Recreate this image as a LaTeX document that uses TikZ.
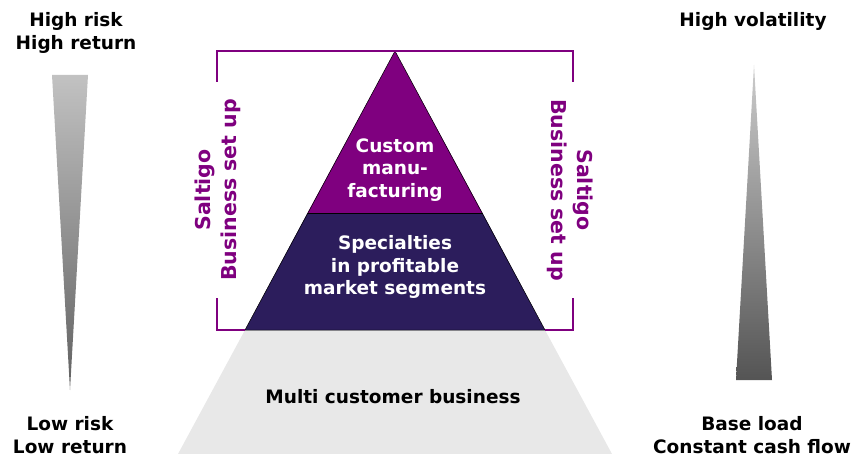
\documentclass[tikz,border=0pt]{standalone}
\usepackage{fontspec}
\setmainfont{DejaVu Sans}
\begin{document}
\begin{tikzpicture}[x=1pt,y=-1pt,
  lbl/.style={font=\bfseries\fontsize{18.5}{22.5}\selectfont, align=center, inner sep=0pt},
  wlbl/.style={lbl, text=white},
  plbl/.style={lbl, font=\bfseries\fontsize{20.5}{26.5}\selectfont, text=saltpurple},
  bracket/.style={draw=saltpurple, line width=1.3pt}]
\definecolor{saltpurple}{HTML}{7F007F}
\definecolor{deepblue}{HTML}{2C1D5C}
\definecolor{lightgr}{HTML}{E8E8E8}
\useasboundingbox (0,0) rectangle (853,454);
% gray base trapezoid
\fill[lightgr] (245,330) -- (545,330) -- (612,454) -- (178,454) -- cycle;
% pyramid
\fill[deepblue] (307.5,213) -- (482.5,213) -- (545,330) -- (245,330) -- cycle;
\fill[saltpurple] (395,51) -- (482.5,213) -- (307.5,213) -- cycle;
\draw[black, line width=0.5pt] (395,51) -- (545,330) -- (245,330) -- cycle;
\draw[black, line width=0.5pt] (307.5,213) -- (482.5,213);
% brackets
\coordinate (tl) at (217,51); \coordinate (tr) at (573,51);
\coordinate (bl) at (217,330); \coordinate (br) at (573,330);
\draw[bracket] (217,82) -- (tl) -- (tr) -- (573,82);
\draw[bracket] (217,298) -- (bl) -- (245,330);
\draw[bracket] (573,298) -- (br) -- (545,330);
% wedges
\shade[top color=black!24, bottom color=black!62] (52,75) -- (88,75) -- (70,390) -- cycle;
\shade[top color=black!20, bottom color=black!67] (754,65) -- (772,380) -- (736,380) -- cycle;
% labels
\node[lbl] (hr) at (76,33) {High risk\\High return};
\node[lbl] (lr) at (70,435) {Low risk\\Low return};
\node[lbl] (hv) at (753,21) {High volatility};
\node[lbl] (bl2) at (752,435) {Base load\\Constant cash flow};
\node[wlbl] (cm) at (395,170) {Custom\\manu-\\facturing};
\node[wlbl] (sp) at (395,267) {Specialties\\in profitable\\market segments};
\node[lbl] (mc) at (393,397) {Multi customer business};
\node[plbl, rotate=90] (sl) at (218,190) {Saltigo\\Business set up};
\node[plbl, rotate=-90] (sr) at (570,190) {Saltigo\\Business set up};
\end{tikzpicture}
\end{document}
